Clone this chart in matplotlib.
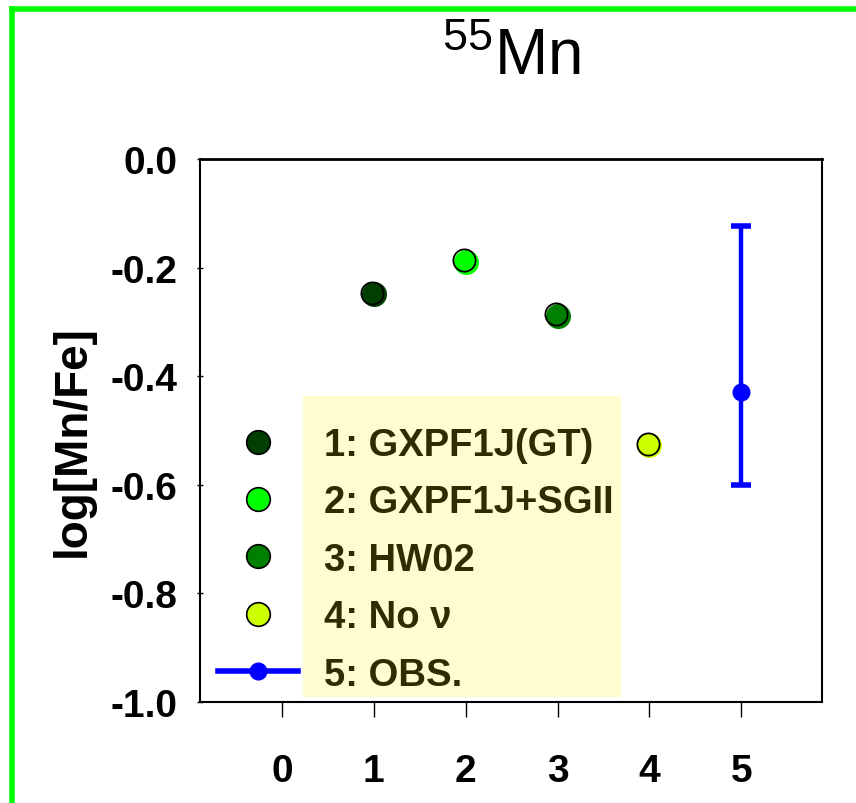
import matplotlib
matplotlib.use("Agg")
import matplotlib.pyplot as plt
import matplotlib.transforms as mtrans
from matplotlib.lines import Line2D
from matplotlib.patches import Rectangle

# data
models = ["1: GXPF1J(GT)", "2: GXPF1J+SGII", "3: HW02", "4: No \u03bd"]
model_x = [1, 2, 3, 4]
model_y = [-0.249, -0.189, -0.289, -0.527]
model_colors = ["#003f00", "#00ff00", "#008000", "#ccff00"]
obs_label = "5: OBS."
obs_x = [5]
obs_y = [-0.43]
obs_err_lo = [0.17]
obs_err_hi = [0.307]
x_ticks = [0, 1, 2, 3, 4, 5]
y_ticks = [0.0, -0.2, -0.4, -0.6, -0.8, -1.0]

plt.rcParams["font.family"] = ["Liberation Sans", "DejaVu Sans"]
plt.rcParams["axes.unicode_minus"] = False
plt.rcParams["mathtext.fontset"] = "custom"
plt.rcParams["mathtext.rm"] = "Liberation Sans"
plt.rcParams["mathtext.default"] = "regular"

fig = plt.figure(figsize=(8.56, 8.04), dpi=100)
ax = fig.add_axes([200/856, 101/804, 622/856, 543/804])

# green frame around the panel (top and left only visible)
fig.add_artist(Line2D([12/856, 12/856], [0, 794/804], color="#00ff00", lw=4, transform=fig.transFigure))
fig.add_artist(Line2D([12/856, 1], [794/804, 794/804], color="#00ff00", lw=4, transform=fig.transFigure))

# model points: coloured fill with an offset black ring
ring = mtrans.offset_copy(ax.transData, fig=fig, x=-1.5, y=1.5, units="dots")
for xv, yv, c in zip(model_x, model_y, model_colors):
    ax.plot([xv], [yv], "o", ms=17, mfc=c, mec=c, mew=1, zorder=3)
    ax.plot([xv], [yv], "o", ms=16, mfc="none", mec="k", mew=1.3, transform=ring, zorder=4)

# observation with error bar
ax.errorbar(obs_x, obs_y, yerr=[obs_err_lo, obs_err_hi], fmt="o", color="#0000ff",
            ms=12, elinewidth=3.2, capsize=7, capthick=4, zorder=5)

# legend: markers on white, labels on a cream box
handles = [Line2D([], [], ls="none", marker="o", ms=17, mfc=c, mec="k", mew=1.2) for c in model_colors]
handles.append(Line2D([], [], color="#0000ff", lw=4, marker="o", ms=12))
ax.add_patch(Rectangle((103/622, 5/543), 318/622, 301/543, transform=ax.transAxes,
                       fc="#fffdd0", ec="none", zorder=1))
leg = ax.legend(handles, models + [obs_label], loc="upper left", bbox_to_anchor=(18/622, 275/543),
                frameon=False, prop={"weight": "bold", "size": 27.5},
                handlelength=2.1, handletextpad=0.68, labelspacing=0.56, borderpad=0, borderaxespad=0)
for t in leg.get_texts():
    t.set_color("#302c00")

ax.set_xlim(-0.893, 5.88)
ax.set_ylim(-1.0, 0.0)
ax.set_xticks(x_ticks)
ax.set_xticklabels([str(v) for v in x_ticks])
ax.set_yticks(y_ticks)
ax.set_yticklabels(["%.1f" % v for v in y_ticks])
ax.tick_params(axis="x", direction="out", length=11, width=1, pad=26, labelsize=28)
ax.tick_params(axis="y", direction="inout", length=5, width=1, pad=14, labelsize=28)
for lab in ax.get_xticklabels() + ax.get_yticklabels():
    lab.set_fontweight("bold")
for s in ax.spines.values():
    s.set_linewidth(1.5)
ax.spines["top"].set_linewidth(2)

ax.set_ylabel("log[Mn/Fe]", fontsize=33, fontweight="bold")
ax.yaxis.set_label_coords(-0.17, 0.483)

fig.text(511/856, 1 - 75/804, "$^{55}$Mn", ha="center", va="baseline", fontsize=46)

fig.savefig("out.png", dpi=100)
